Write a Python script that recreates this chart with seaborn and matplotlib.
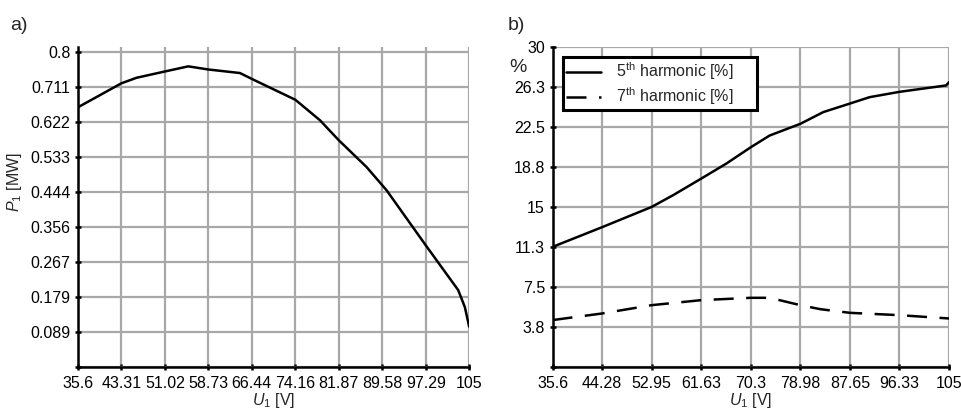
import numpy as np
import pandas as pd
import seaborn as sns
import matplotlib.pyplot as plt

# panel a) active power vs voltage
u_a = [35.6, 43.31, 46.0, 51.02, 55.17, 58.73, 64.33, 66.44, 74.16, 78.52,
       81.87, 86.79, 90.34, 97.29, 103.05, 104.23, 105.0]
p1 = [0.660, 0.721, 0.735, 0.751, 0.764, 0.756, 0.747, 0.732, 0.679, 0.627,
      0.576, 0.508, 0.449, 0.309, 0.195, 0.152, 0.102]
xticks_a = ['35.6', '43.31', '51.02', '58.73', '66.44', '74.16', '81.87',
            '89.58', '97.29', '105']
yticks_a = ['0.089', '0.179', '0.267', '0.356', '0.444', '0.533', '0.622',
            '0.711', '0.8']

# panel b) harmonics vs voltage
u_b = [35.6, 44.28, 52.95, 56.7, 61.63, 66.0, 70.3, 73.6, 78.98, 83.0,
       87.65, 91.1, 96.33, 104.5, 105.0]
h5 = [11.25, 13.1, 15.0, 16.1, 17.66, 19.06, 20.6, 21.7, 22.8, 23.9,
      24.7, 25.3, 25.8, 26.4, 26.7]
u_b7 = [35.6, 44.28, 52.95, 61.63, 70.3, 73.6, 78.98, 82.5, 87.65, 96.33, 105.0]
h7 = [4.38, 5.0, 5.78, 6.25, 6.47, 6.47, 5.78, 5.4, 5.06, 4.84, 4.53]
xticks_b = ['35.6', '44.28', '52.95', '61.63', '70.3', '78.98', '87.65',
            '96.33', '105']
yticks_b = ['3.8', '7.5', '11.3', '15', '18.8', '22.5', '26.3', '30']

sns.set_style('white')
plt.rcParams['font.family'] = ['Liberation Sans', 'DejaVu Sans']
plt.rcParams['mathtext.fontset'] = 'custom'
plt.rcParams['mathtext.rm'] = 'Liberation Sans'
plt.rcParams['mathtext.it'] = 'Liberation Sans:italic'

FS = 11.5

fig = plt.figure(figsize=(9.61, 4.13), dpi=100)
ax1 = fig.add_axes([0.0812, 0.112, 0.407, 0.774])
ax2 = fig.add_axes([0.575, 0.112, 0.4125, 0.774])

grid_kw = dict(color='#a8a8a8', linewidth=1.6)


def style_axes(ax):
    ax.grid(True, **grid_kw)
    ax.set_axisbelow(True)
    for s in ['top', 'right']:
        ax.spines[s].set_visible(False)
    for s in ['left', 'bottom']:
        ax.spines[s].set_color('black')
        ax.spines[s].set_linewidth(1.8)
    ax.tick_params(axis='both', direction='inout', length=4, width=1.8,
                   colors='black', labelsize=FS, left=True, bottom=True)
    ax.tick_params(axis='x', pad=5)


# a)
df_a = pd.DataFrame({'U1': u_a, 'P1': p1})
sns.lineplot(data=df_a, x='U1', y='P1', ax=ax1, color='black', linewidth=1.8)
ax1.set_xlim(35.6, 105)
ax1.set_ylim(0, 0.813)
ax1.set_xticks(np.linspace(35.6, 105, len(xticks_a)), xticks_a)
ax1.set_yticks(np.linspace(0, 0.8, 10), [''] + yticks_a)
style_axes(ax1)
ax1.set_xlabel('$U_1$ [V]', fontsize=FS, labelpad=0)
ax1.set_ylabel('$P_1$ [MW]', fontsize=FS)
ax1.yaxis.set_label_coords(-0.138, 0.577)
fig.text(0.011, 0.927, 'a)', fontsize=14, va='baseline')

# b)
df_b5 = pd.DataFrame({'U1': u_b, 'val': h5})
df_b7 = pd.DataFrame({'U1': u_b7, 'val': h7})
sns.lineplot(data=df_b5, x='U1', y='val', ax=ax2, color='black',
             linewidth=1.8, label='5$^{\\mathrm{th}}$ harmonic [%]')
sns.lineplot(data=df_b7, x='U1', y='val', ax=ax2, color='black',
             linewidth=1.8, label='7$^{\\mathrm{th}}$ harmonic [%]')
ax2.lines[1].set_dashes([8, 5])
ax2.set_xlim(35.6, 105)
ax2.set_ylim(0, 30)
ax2.set_xticks(np.linspace(35.6, 105, len(xticks_b)), xticks_b)
ax2.set_yticks(np.linspace(0, 30, 9), [''] + yticks_b)
style_axes(ax2)
ax2.set_xlabel('$U_1$ [V]', fontsize=FS, labelpad=0)
ax2.set_ylabel('')
fig.text(0.530, 0.826, '%', fontsize=14)
fig.text(0.528, 0.927, 'b)', fontsize=14, va='baseline')

leg = ax2.legend(loc='upper left', bbox_to_anchor=(0.026, 0.6, 0.49, 0.368),
                 mode='expand', borderaxespad=0, fontsize=FS, frameon=True,
                 fancybox=False, handlelength=2.2, borderpad=0.2,
                 labelspacing=0.2, handletextpad=0.9)
leg.get_frame().set_edgecolor('black')
leg.get_frame().set_linewidth(2.2)
leg.get_frame().set_alpha(1)
leg.get_lines()[1].set_dashes([8, 5])

fig.savefig('out.png', dpi=100, facecolor='white')
